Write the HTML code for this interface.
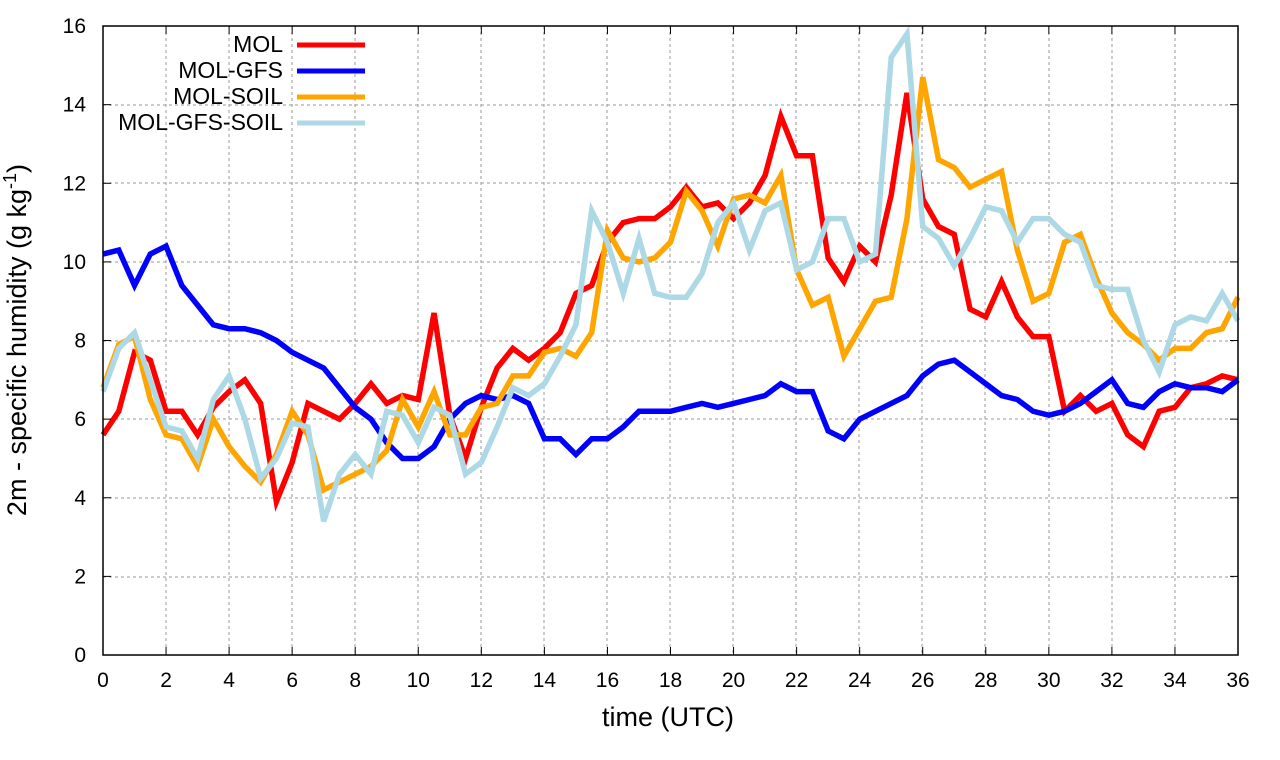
<!DOCTYPE html>
<html><head><meta charset="utf-8"><style>
body{margin:0;background:#fff;}
svg{display:block;font-family:"Liberation Sans",sans-serif;}
</style></head><body>
<svg width="1280" height="760" viewBox="0 0 1280 760" xmlns="http://www.w3.org/2000/svg">
<rect width="1280" height="760" fill="#fff"/>
<g stroke="#999" stroke-width="1" stroke-dasharray="3,3">
<line x1="103" y1="577" x2="1238" y2="577"/><line x1="103" y1="498" x2="1238" y2="498"/><line x1="103" y1="419" x2="1238" y2="419"/><line x1="103" y1="341" x2="1238" y2="341"/><line x1="103" y1="262" x2="1238" y2="262"/><line x1="103" y1="183" x2="1238" y2="183"/><line x1="103" y1="105" x2="1238" y2="105"/>
<line x1="166" y1="26" x2="166" y2="655"/><line x1="229" y1="26" x2="229" y2="655"/><line x1="292" y1="26" x2="292" y2="655"/><line x1="355" y1="26" x2="355" y2="655"/><line x1="418" y1="26" x2="418" y2="655"/><line x1="481" y1="26" x2="481" y2="655"/><line x1="544" y1="26" x2="544" y2="655"/><line x1="607" y1="26" x2="607" y2="655"/><line x1="670" y1="26" x2="670" y2="655"/><line x1="733" y1="26" x2="733" y2="655"/><line x1="796" y1="26" x2="796" y2="655"/><line x1="859" y1="26" x2="859" y2="655"/><line x1="922" y1="26" x2="922" y2="655"/><line x1="985" y1="26" x2="985" y2="655"/><line x1="1049" y1="26" x2="1049" y2="655"/><line x1="1112" y1="26" x2="1112" y2="655"/><line x1="1175" y1="26" x2="1175" y2="655"/>
</g>
<g id="series" transform="translate(103,655) scale(31.528,-39.31)" fill="none" stroke-width="5.5" stroke-linejoin="miter"></g>
<rect x="103" y="26" width="1135" height="629" fill="none" stroke="#000" stroke-width="1.5"/>
<g id="ticks" stroke="#000" stroke-width="1"></g>
<g font-size="21" fill="#000" id="labels"></g>
<text x="668" y="726" font-size="27" text-anchor="middle">time (UTC)</text>
<text transform="translate(26,340) rotate(-90)" font-size="27" text-anchor="middle">2m - specific humidity (g kg<tspan dy="-10" font-size="18">-1</tspan><tspan dy="10">)</tspan></text>
<g font-size="23" text-anchor="end">
<text x="283" y="52">MOL</text><text x="283" y="78">MOL-GFS</text><text x="283" y="104">MOL-SOIL</text><text x="283" y="130">MOL-GFS-SOIL</text>
</g>
<g stroke-width="5">
<line x1="297" y1="45" x2="365" y2="45" stroke="#f00"/>
<line x1="297" y1="71" x2="365" y2="71" stroke="#00f"/>
<line x1="297" y1="97" x2="365" y2="97" stroke="#ffa500"/>
<line x1="297" y1="123" x2="365" y2="123" stroke="#add8e6"/>
</g>
</svg>
<script>
var D={
"#f00":[5.6,6.2,7.7,7.5,6.2,6.2,5.6,6.3,6.7,7.0,6.4,3.9,4.9,6.4,6.2,6.0,6.4,6.9,6.4,6.6,6.5,8.7,6.1,5.0,6.3,7.3,7.8,7.5,7.8,8.2,9.2,9.4,10.5,11.0,11.1,11.1,11.4,11.9,11.4,11.5,11.1,11.5,12.2,13.7,12.7,12.7,10.1,9.5,10.4,10.0,11.7,14.3,11.6,10.9,10.7,8.8,8.6,9.5,8.6,8.1,8.1,6.2,6.6,6.2,6.4,5.6,5.3,6.2,6.3,6.8,6.9,7.1,7.0],
"#00f":[10.2,10.3,9.4,10.2,10.4,9.4,8.9,8.4,8.3,8.3,8.2,8.0,7.7,7.5,7.3,6.8,6.3,6.0,5.4,5.0,5.0,5.3,6.0,6.4,6.6,6.5,6.6,6.4,5.5,5.5,5.1,5.5,5.5,5.8,6.2,6.2,6.2,6.3,6.4,6.3,6.4,6.5,6.6,6.9,6.7,6.7,5.7,5.5,6.0,6.2,6.4,6.6,7.1,7.4,7.5,7.2,6.9,6.6,6.5,6.2,6.1,6.2,6.4,6.7,7.0,6.4,6.3,6.7,6.9,6.8,6.8,6.7,7.0],
"#ffa500":[6.8,7.9,8.1,6.5,5.6,5.5,4.8,6.0,5.3,4.8,4.4,5.1,6.2,5.6,4.2,4.4,4.6,4.8,5.2,6.5,5.8,6.7,5.6,5.6,6.3,6.4,7.1,7.1,7.7,7.8,7.6,8.2,10.8,10.1,10.0,10.1,10.5,11.8,11.3,10.4,11.6,11.7,11.5,12.2,9.8,8.9,9.1,7.6,8.3,9.0,9.1,11.1,14.7,12.6,12.4,11.9,12.1,12.3,10.3,9.0,9.2,10.5,10.7,9.6,8.7,8.2,7.9,7.5,7.8,7.8,8.2,8.3,9.1],
"#add8e6":[6.7,7.8,8.2,7.0,5.8,5.7,5.0,6.5,7.1,6.0,4.5,5.0,5.9,5.8,3.4,4.6,5.1,4.6,6.2,6.1,5.4,6.3,6.1,4.6,4.9,5.8,6.8,6.6,6.9,7.6,8.4,11.3,10.5,9.2,10.6,9.2,9.1,9.1,9.7,11.0,11.5,10.3,11.3,11.5,9.8,10.0,11.1,11.1,10.0,10.2,15.2,15.8,10.9,10.6,9.9,10.6,11.4,11.3,10.5,11.1,11.1,10.7,10.5,9.4,9.3,9.3,8.0,7.2,8.4,8.6,8.5,9.2,8.5]};
var NS="http://www.w3.org/2000/svg",g=document.getElementById("series");
["#f00","#00f","#ffa500","#add8e6"].forEach(function(c){var p=document.createElementNS(NS,"polyline");
p.setAttribute("points",D[c].map(function(v,i){return (i*0.5)+","+v}).join(" "));
p.setAttribute("stroke",c);p.setAttribute("vector-effect","non-scaling-stroke");g.appendChild(p);});
var t=document.getElementById("ticks"),l=document.getElementById("labels");
function ln(a,b,c,d){var e=document.createElementNS(NS,"line");e.setAttribute("x1",a);e.setAttribute("y1",b);e.setAttribute("x2",c);e.setAttribute("y2",d);t.appendChild(e);}
function tx(x,y,s,a){var e=document.createElementNS(NS,"text");e.setAttribute("x",x);e.setAttribute("y",y);e.setAttribute("text-anchor",a);e.textContent=s;l.appendChild(e);}
for(var v=0;v<=16;v+=2){var y=655-v*39.31;ln(103,y,111,y);ln(1238,y,1230,y);tx(86,y+7,v,"end");}
for(var h=0;h<=36;h+=2){var x=103+h*31.528;ln(x,655,x,647);ln(x,26,x,34);tx(x,687,h,"middle");}
</script>
</body></html>
